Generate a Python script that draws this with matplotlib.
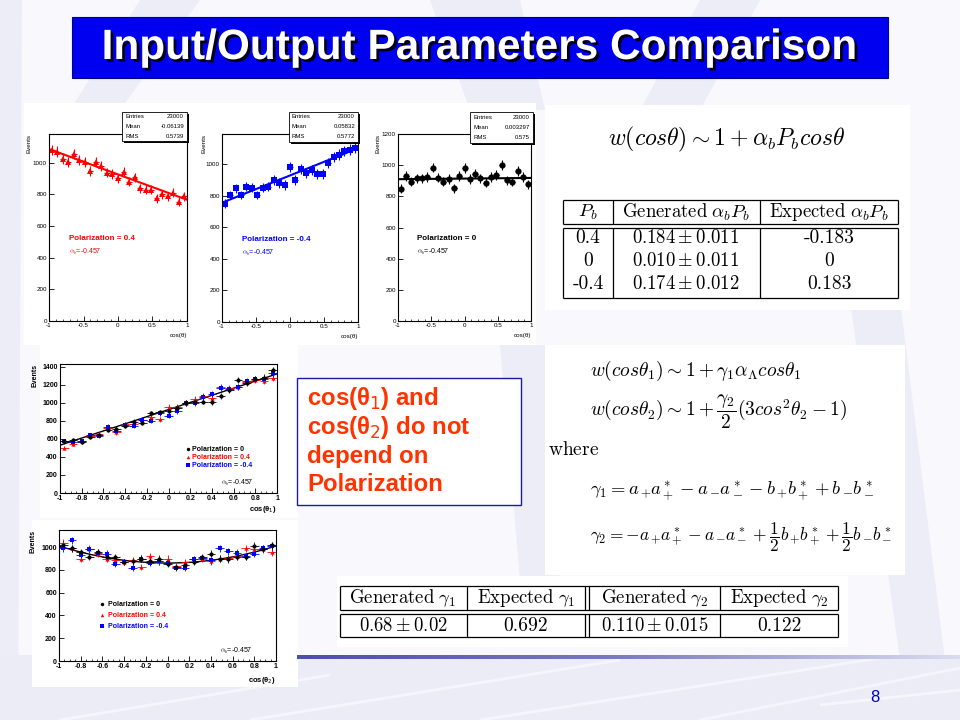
import numpy as np
import matplotlib
matplotlib.use('Agg')
import matplotlib.pyplot as plt
from matplotlib import font_manager
from matplotlib.patches import Rectangle, Polygon
from matplotlib.colors import LinearSegmentedColormap
from matplotlib.ticker import MultipleLocator
import matplotlib.patheffects as pe

plt.rcParams['mathtext.fontset'] = 'cm'
plt.rcParams['font.family'] = ['Liberation Sans', 'DejaVu Sans']

# ---------------- data ----------------
x_bins = [-0.96, -0.88, -0.80, -0.72, -0.64, -0.56, -0.48, -0.40, -0.32, -0.24,
          -0.16, -0.08, 0.00, 0.08, 0.16, 0.24, 0.32, 0.40, 0.48, 0.56,
          0.64, 0.72, 0.80, 0.88, 0.96]

# cos(theta) distributions (top row)
cos_pol_p04 = [1079, 1069, 1025, 1006, 1052, 1015, 1004, 948, 1004, 979,
               937, 927, 900, 941, 879, 906, 837, 828, 828, 774,
               801, 787, 808, 753, 787]
cos_pol_m04 = [749, 804, 847, 804, 857, 851, 804, 851, 857, 900,
               879, 868, 983, 900, 968, 943, 964, 936, 936, 1006,
               1043, 1060, 1081, 1091, 1102]
cos_pol_0 = [850, 931, 895, 916, 916, 925, 985, 920, 895, 910,
             852, 931, 981, 910, 946, 916, 888, 925, 938, 1000,
             903, 895, 963, 925, 877]
fit_p04_ends = [1085, 765]
fit_m04_ends = [755, 1100]
fit_0_ends = [910, 918]

# cos(theta1) distributions
th1_pol_0 = [578, 590, 564, 626, 645, 700, 711, 748, 792, 781,
             884, 895, 910, 947, 995, 1013, 1013, 1006, 1080, 1142,
             1253, 1216, 1264, 1279, 1363]
th1_pol_p04 = [497, 542, 571, 637, 652, 726, 674, 763, 763, 811,
               847, 818, 951, 958, 995, 1039, 1080, 1057, 1179, 1160,
               1179, 1234, 1253, 1242, 1279]
th1_pol_m04 = [571, 564, 578, 645, 637, 737, 689, 755, 748, 811,
               800, 884, 858, 910, 995, 995, 1068, 1094, 1168, 1153,
               1179, 1242, 1264, 1264, 1326]
fit_th1_ends = [530, 1320]

# cos(theta2) distributions
th2_pol_0 = [1020, 991, 956, 913, 956, 913, 913, 869, 875, 898,
             875, 898, 854, 825, 845, 869, 913, 942, 898, 892,
             913, 913, 1009, 985, 1015]
th2_pol_p04 = [1038, 991, 898, 985, 942, 898, 883, 869, 883, 825,
               921, 875, 898, 834, 869, 892, 898, 875, 898, 904,
               921, 991, 979, 979, 956]
th2_pol_m04 = [991, 1058, 933, 979, 950, 942, 854, 869, 816, 898,
               863, 875, 863, 816, 816, 892, 904, 883, 991, 962,
               950, 921, 942, 991, 1009]
fit_th2_coef = [150, 0, 860]   # a*x^2 + b*x + c

stats_entries = ['23000', '23000', '23000']
stats_mean = ['-0.06139', '0.05832', '0.003297']
stats_rms = ['0.5739', '0.5772', '0.575']
pol_labels = ['Polarization = 0.4', 'Polarization = -0.4', 'Polarization = 0']
legend_labels = ['Polarization = 0', 'Polarization = 0.4', 'Polarization = -0.4']
alpha_text = r'$\alpha_b$=-0.457'

top_xticks = [-1, -0.5, 0, 0.5, 1]
top_xticklabels = ['-1', '-0.5', '0', '0.5', '1']
bot_xticks = [-1, -0.8, -0.6, -0.4, -0.2, 0, 0.2, 0.4, 0.6, 0.8, 1]
bot_xticklabels = ['-1', '-0.8', '-0.6', '-0.4', '-0.2', '0', '0.2', '0.4', '0.6', '0.8', '1']

tab1_header = [r'$P_b$', r'$\mathrm{Generated}\ \alpha_b P_b$', r'$\mathrm{Expected}\ \alpha_b P_b$']
tab1_rows = [['0.4', r'$\mathrm{0.184}\pm\mathrm{0.011}$', '-0.183'],
             ['0', r'$\mathrm{0.010}\pm\mathrm{0.011}$', '0'],
             ['-0.4', r'$\mathrm{0.174}\pm\mathrm{0.012}$', '0.183']]
tab2_header = [r'$\mathrm{Generated}\ \gamma_1$', r'$\mathrm{Expected}\ \gamma_1$',
               r'$\mathrm{Generated}\ \gamma_2$', r'$\mathrm{Expected}\ \gamma_2$']
tab2_row = [r'$\mathrm{0.68}\pm\mathrm{0.02}$', '0.692',
            r'$\mathrm{0.110}\pm\mathrm{0.015}$', '0.122']

# ---------------- figure ----------------
W, H = 960, 720
fig = plt.figure(figsize=(9.6, 7.2), dpi=100)
fig.patch.set_facecolor('#F8F8FD')

bg = fig.add_axes([0, 0, 1, 1], zorder=0)
bg.axis('off')

lav = '#EDEDF8'
for poly in [
    [(0, 0), (22, 0), (18, 720), (0, 720)],
    [(140, 0), (200, 0), (120, 110), (70, 110)],
    [(430, 0), (520, 0), (545, 110), (470, 110)],
    [(700, 0), (760, 0), (700, 110), (640, 110)],
    [(500, 345), (545, 345), (560, 580), (520, 580)],
    [(850, 300), (900, 300), (945, 660), (900, 660)],
]:
    bg.add_patch(Polygon(poly, closed=True, color=lav, lw=0))
# bottom band
bg.add_patch(Rectangle((0, 655), W, 65, color='#ECECF7', lw=0))
for (xa, ya, xb, yb) in [(250, 720, 620, 660), (480, 720, 900, 655), (700, 720, 960, 668),
                         (60, 720, 330, 675), (820, 705, 960, 690)]:
    bg.plot([xa, xb], [ya, yb], color='white', lw=2, alpha=0.5, solid_capstyle='butt')

# white image panels
for (x0, y0, x1, y1) in [(24, 103, 536, 345), (545, 105, 910, 310), (545, 345, 905, 575),
                         (40, 345, 298, 518), (32, 520, 298, 687), (337, 576, 848, 647)]:
    bg.add_patch(Rectangle((x0, y0), x1 - x0, y1 - y0, color='white', lw=0))

# footer gradient line
gcmap = LinearSegmentedColormap.from_list('foot', ['#4E4EA6', '#7C7CC0', '#DCDCF0'])
bg.imshow(np.linspace(0, 1, 256).reshape(1, -1), extent=(297, 960, 659, 655), cmap=gcmap,
          aspect='auto', interpolation='bilinear', zorder=2)
bg.text(875, 697, '8', color='#0000CC', fontsize=12, ha='center', va='center')

# title
names = {f.name for f in font_manager.fontManager.ttflist}
if 'Liberation Sans Narrow' in names:
    tfam, tsize = ['Liberation Sans Narrow', 'DejaVu Sans'], 37
else:
    tfam, tsize = ['Liberation Sans', 'DejaVu Sans'], 30.5
bg.add_patch(Rectangle((72, 17), 816, 61, facecolor='#0000F0', edgecolor='#000080', lw=0.8))
bg.text(480, 48, 'Input/Output Parameters Comparison', color='white', fontsize=tsize,
        family=tfam, weight='bold', ha='center', va='center',
        path_effects=[pe.withSimplePatchShadow(offset=(2, -2), shadow_rgbFace='black', alpha=0.9)])

# text box
bg.add_patch(Rectangle((297, 378), 224, 127, facecolor='white', edgecolor='#1a1aa6', lw=1))
for i, line in enumerate([r'cos(θ$_1$) and', r'cos(θ$_2$) do not', 'depend on', 'Polarization']):
    bg.text(307, 399 + 28.5 * i, line, color='#FF3300', fontsize=17.3, weight='bold',
            ha='left', va='center', math_fontfamily='dejavusans')

# formulas
bg.text(727, 139, r'$w(cos\theta) \sim 1 + \alpha_b P_b cos\theta$', fontsize=17,
        ha='center', va='center')
bg.text(590, 371, r'$w(cos\theta_1) \sim 1 + \gamma_1\alpha_\Lambda cos\theta_1$', fontsize=14,
        ha='left', va='center')
bg.text(590, 412, r'$w(cos\theta_2) \sim 1 + \dfrac{\gamma_2}{2}(3cos^2\theta_2 - 1)$', fontsize=14,
        ha='left', va='center')
bg.text(548, 450, r'$\mathrm{where}$', fontsize=14, ha='left', va='center')
bg.text(590, 491, r'$\gamma_1 = a_+\!a_+^* - a_-\!a_-^* - b_+\!b_+^* + b_-\!b_-^*$', fontsize=13.3,
        ha='left', va='center')
bg.text(590, 537, r'$\gamma_2 = -a_+\!a_+^* - a_-\!a_-^* + \dfrac{1}{2}b_+\!b_+^* + \dfrac{1}{2}b_-\!b_-^*$',
        fontsize=12.5, ha='left', va='center')


def cell(x, y, s):
    if s.startswith('$'):
        bg.text(x, y, s, fontsize=13.5, ha='center', va='center')
    else:
        bg.text(x, y, s, fontsize=14, ha='center', va='center', family='cmr10')


# table 1
def hline(x0, x1, y, lw=0.9):
    bg.plot([x0, x1], [y, y], color='black', lw=lw, solid_capstyle='butt')


def vline(x, y0, y1, lw=0.9):
    bg.plot([x, x], [y0, y1], color='black', lw=lw, solid_capstyle='butt')


for y in (200, 224, 228, 298):
    hline(563, 898, y)
for x in (563, 613, 760, 898):
    vline(x, 200, 224); vline(x, 228, 298)
t1_cx = [588, 686, 829]
for j, s in enumerate(tab1_header):
    cell(t1_cx[j], 212, s)
for i, row in enumerate(tab1_rows):
    for j, s in enumerate(row):
        cell(t1_cx[j], 238 + 23 * i, s)

# table 2
for y in (586, 610, 614, 637):
    hline(340, 838, y)
for x in (340, 467, 585, 589, 720, 838):
    vline(x, 586, 610); vline(x, 614, 637)
t2_cx = [403, 526, 655, 779]
for j, s in enumerate(tab2_header):
    cell(t2_cx[j], 598, s)
for j, s in enumerate(tab2_row):
    cell(t2_cx[j], 626, s)

bg.set_xlim(0, W); bg.set_ylim(H, 0)


# ---------------- histogram panels ----------------
def px_axes(l, t, r, b):
    return fig.add_axes([l / W, 1 - b / H, (r - l) / W, (b - t) / H], zorder=2)


def style(ax, ylim, yticks, xticks, xlabels, minor_x, lsize, bold=False):
    ax.set_xlim(-1, 1)
    ax.set_ylim(0, ylim)
    ax.set_yticks(yticks)
    ax.set_xticks(xticks, labels=xlabels)
    ax.xaxis.set_minor_locator(MultipleLocator(minor_x))
    ax.tick_params(which='major', direction='in', length=3.5, width=0.6, labelsize=lsize,
                   pad=1.5, top=False, right=False)
    ax.tick_params(which='minor', direction='in', length=1.8, width=0.5, top=False, right=False)
    for sp in ax.spines.values():
        sp.set_linewidth(0.8)
    if bold:
        for lab in ax.get_xticklabels() + ax.get_yticklabels():
            lab.set_fontweight('bold')


def draw_series(ax, vals, marker, color, ms, lw):
    v = np.array(vals, dtype=float)
    ax.errorbar(x_bins, v, yerr=np.sqrt(v), xerr=0.04, fmt=marker, color=color, ms=ms,
                elinewidth=lw, capsize=0, mew=0)


top_specs = [
    ((49, 134, 187, 321), 1180, [0, 200, 400, 600, 800, 1000], cos_pol_p04, '^', 'red', fit_p04_ends,
     pol_labels[0], -0.145),
    ((222, 134, 358, 322), 1190, [0, 200, 400, 600, 800, 1000], cos_pol_m04, 's', 'blue', fit_m04_ends,
     pol_labels[1], -0.13),
    ((398, 134, 531, 321), 1200, [0, 200, 400, 600, 800, 1000, 1200], cos_pol_0, 'o', 'black', fit_0_ends,
     pol_labels[2], -0.15),
]
for (box, ylim, yt, vals, mk, col, fit, plab, evx) in top_specs:
    ax = px_axes(*box)
    style(ax, ylim, yt, top_xticks, top_xticklabels, 0.1, 4.5)
    ax.plot([-1, 1], fit, color=col, lw=1.5, zorder=1)
    draw_series(ax, vals, mk, col, 4.5, 0.8)
    ax.text(evx, 1.0, 'Events', rotation=90, transform=ax.transAxes, ha='center', va='top', fontsize=4.5)
    ax.text(1.0, -0.075, 'cos(θ)', transform=ax.transAxes, ha='right', va='center', fontsize=4.5)
    ax.text(0.145, 0.44, plab, transform=ax.transAxes, color=col, weight='bold', fontsize=5.8,
            ha='left', va='center')
    ax.text(0.145, 0.37, alpha_text, transform=ax.transAxes, color=col, fontsize=5,
            ha='left', va='center')

# cos(theta1)
ax4 = px_axes(60, 364, 277, 493)
style(ax4, 1430, [0, 200, 400, 600, 800, 1000, 1200, 1400], bot_xticks, bot_xticklabels, 0.05, 5, bold=True)
ax4.plot([-1, 1], fit_th1_ends, color='black', lw=1.0, zorder=1)
draw_series(ax4, th1_pol_p04, '^', 'red', 3, 0.6)
draw_series(ax4, th1_pol_m04, 's', 'blue', 3, 0.6)
draw_series(ax4, th1_pol_0, 'o', 'black', 3, 0.6)
ax4.text(-0.115, 1.0, 'Events', rotation=90, transform=ax4.transAxes, ha='center', va='top',
         fontsize=5, weight='bold')
ax4.text(1.0, -0.13, r'cos(θ$_1$)', transform=ax4.transAxes, ha='right', va='center', fontsize=5.5,
         weight='bold', math_fontfamily='dejavusans')
for i, (lab, mk, col) in enumerate(zip(legend_labels, ['o', '^', 's'], ['black', 'red', 'blue'])):
    yy = 0.341 - 0.062 * i
    ax4.plot([0.59], [yy], marker=mk, color=col, ms=2.5, transform=ax4.transAxes, mew=0)
    ax4.text(0.61, yy, lab, transform=ax4.transAxes, color=col, fontsize=5, weight='bold',
             ha='left', va='center')
ax4.text(0.74, 0.08, alpha_text, transform=ax4.transAxes, fontsize=5, ha='left', va='center')

# cos(theta2)
ax5 = px_axes(59, 530, 276, 661)
style(ax5, 1150, [0, 200, 400, 600, 800, 1000], bot_xticks, bot_xticklabels, 0.05, 5, bold=True)
xf = np.linspace(-1, 1, 200)
ax5.plot(xf, np.polyval(fit_th2_coef, xf), color='black', lw=1.0, zorder=1)
draw_series(ax5, th2_pol_p04, '^', 'red', 3, 0.6)
draw_series(ax5, th2_pol_m04, 's', 'blue', 3, 0.6)
draw_series(ax5, th2_pol_0, 'o', 'black', 3, 0.6)
ax5.text(-0.12, 1.0, 'Events', rotation=90, transform=ax5.transAxes, ha='center', va='top',
         fontsize=5, weight='bold')
ax5.text(1.0, -0.15, r'cos(θ$_2$)', transform=ax5.transAxes, ha='right', va='center', fontsize=5.5,
         weight='bold', math_fontfamily='dejavusans')
for i, (lab, mk, col) in enumerate(zip(legend_labels, ['o', '^', 's'], ['black', 'red', 'blue'])):
    yy = 0.435 - 0.084 * i
    ax5.plot([0.198], [yy], marker=mk, color=col, ms=2.5, transform=ax5.transAxes, mew=0)
    ax5.text(0.225, yy, lab, transform=ax5.transAxes, color=col, fontsize=5, weight='bold',
             ha='left', va='center')
ax5.text(0.74, 0.076, alpha_text, transform=ax5.transAxes, fontsize=5, ha='left', va='center')

# ---------------- stats boxes overlay ----------------
ov = fig.add_axes([0, 0, 1, 1], zorder=5)
ov.set_xlim(0, W); ov.set_ylim(H, 0); ov.axis('off'); ov.patch.set_alpha(0)

for (x0, y0, x1, y1), ent, mean, rms in zip([(122, 112, 187, 141), (289, 112, 358, 142), (470, 112, 533, 143)],
                                           stats_entries, stats_mean, stats_rms):
    w, h = x1 - x0, y1 - y0
    ov.add_patch(Rectangle((x0 + 2, y0 + 2), w, h, color='black', lw=0))
    ov.add_patch(Rectangle((x0, y0), w, h, facecolor='white', edgecolor='black', lw=0.6))
    for k, (a, b) in enumerate([('Entries', ent), ('Mean', mean), ('RMS', rms)]):
        yy = y0 + h * (k + 0.5) / 3
        ov.text(x0 + 3, yy, a, fontsize=4.3, ha='left', va='center')
        ov.text(x1 - 3, yy, b, fontsize=4.3, ha='right', va='center')

fig.savefig('out.png', dpi=100, facecolor=fig.get_facecolor())
